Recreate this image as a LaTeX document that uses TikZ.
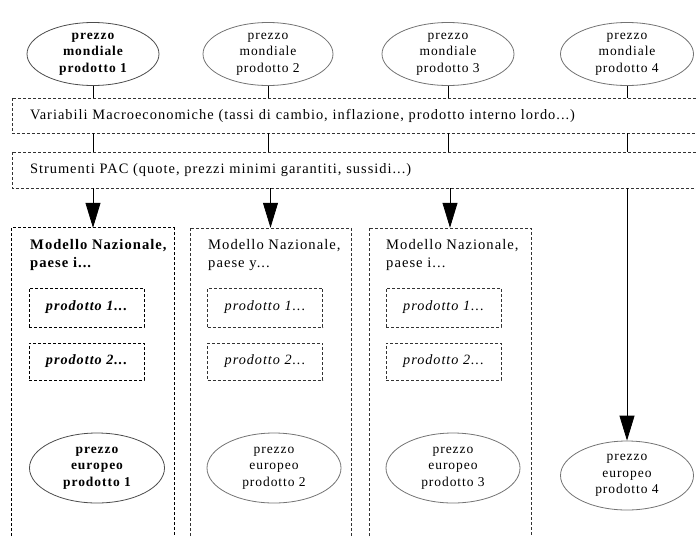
\documentclass[tikz,border=0pt]{standalone}
\usepackage{fontspec}
\setmainfont{Liberation Serif}[LetterSpace=7]
\usetikzlibrary{arrows.meta,shapes.geometric}
\begin{document}
\begin{tikzpicture}[x=1pt,y=-1pt,
  price/.style={ellipse, draw=black!55, line width=0.8pt, inner sep=0pt,
    align=center, font=\fontsize{13.5}{16.7}\selectfont},
  boldprice/.style={price, draw=black!70, font=\fontsize{13.5}{16.7}\selectfont\bfseries},
  band/.style={inner xsep=18pt, inner ysep=0pt, align=left,
    font=\fontsize{14.4}{17}\selectfont},
  frame/.style={draw=black!80, line width=0.6pt, dash pattern=on 3pt off 2pt},
  boldframe/.style={draw=black, line width=0.9pt, dash pattern=on 3pt off 2pt},
  column/.style={inner sep=0pt},
  label/.style={inner sep=0pt, anchor=north west, align=left,
    font=\fontsize{14.6}{18}\selectfont},
  prod/.style={frame, inner sep=0pt, minimum width=115pt,
    font=\fontsize{14.2}{17}\selectfont\itshape},
  stub/.style={draw=black, line width=0.8pt},
  arr/.style={draw=black, line width=0.8pt, -{Triangle[length=25pt,width=15pt]}}
]
\useasboundingbox (0,0) rectangle (696,536);

% world prices
\node[boldprice, minimum width=132pt, minimum height=63pt] (m1) at (93,54) {prezzo\\mondiale\\prodotto 1};
\node[price, minimum width=130pt, minimum height=63pt] (m2) at (268,54) {prezzo\\mondiale\\prodotto 2};
\node[price, minimum width=132pt, minimum height=63pt] (m3) at (448,54) {prezzo\\mondiale\\prodotto 3};
\node[price, minimum width=133pt, minimum height=63pt] (m4) at (627,54) {prezzo\\mondiale\\prodotto 4};

% horizontal bands, open on the right
\node[band, text width=648pt, minimum height=35pt] (macro) at (354,115.5)
  {Variabili Macroeconomiche (tassi di cambio, inflazione, prodotto interno lordo...)};
\node[band, text width=648pt, minimum height=36pt] (pac) at (354,170)
  {Strumenti PAC (quote, prezzi minimi garantiti, sussidi...)};
\draw[frame] (macro.north east) -- (macro.north west) -- (macro.south west) -- (macro.south east);
\draw[frame] (pac.north east) -- (pac.north west) -- (pac.south west) -- (pac.south east);

% national model columns, open at the bottom
\node[column, minimum width=162pt, minimum height=308pt] (c1) at (93,382) {};
\node[column, minimum width=161pt, minimum height=308pt] (c2) at (270.5,382) {};
\node[column, minimum width=162pt, minimum height=308pt] (c3) at (450,382) {};
\draw[boldframe] (c1.south west) -- (c1.north west) -- (c1.north east) -- (c1.south east);
\draw[frame] (c2.south west) -- (c2.north west) -- (c2.north east) -- (c2.south east);
\draw[frame] (c3.south west) -- (c3.north west) -- (c3.north east) -- (c3.south east);

\node[label, font=\fontsize{14.6}{18}\selectfont\bfseries] (l1) at (30,239) {Modello Nazionale,\\paese i...};
\node[label] (l2) at (208,239) {Modello Nazionale,\\paese y...};
\node[label] (l3) at (386,239) {Modello Nazionale,\\paese i...};

% products inside each model
\node[prod, boldframe, minimum height=39pt, font=\fontsize{14.2}{17}\selectfont\bfseries\itshape] (p11) at (86.5,307.5) {prodotto 1...};
\node[prod, boldframe, minimum height=37pt, font=\fontsize{14.2}{17}\selectfont\bfseries\itshape] (p12) at (86.5,361.5) {prodotto 2...};
\node[prod, minimum height=39pt] (p21) at (265,307.5) {prodotto 1...};
\node[prod, minimum height=37pt] (p22) at (265,361.5) {prodotto 2...};
\node[prod, minimum height=39pt] (p31) at (443.5,307.5) {prodotto 1...};
\node[prod, minimum height=37pt] (p32) at (443.5,361.5) {prodotto 2...};

% european prices
\node[boldprice, minimum width=135pt, minimum height=70pt] (e1) at (97,468) {prezzo\\europeo\\prodotto 1};
\node[price, minimum width=134pt, minimum height=70pt] (e2) at (274,468) {prezzo\\europeo\\prodotto 2};
\node[price, minimum width=134pt, minimum height=70pt] (e3) at (453,468) {prezzo\\europeo\\prodotto 3};
\node[price, minimum width=133pt, minimum height=69pt] (e4) at (627,475.5) {prezzo\\europeo\\prodotto 4};

% connectors
\foreach \m in {m1,m2,m3,m4} {
  \draw[stub] (\m.south) -- (\m.south |- macro.north);
  \draw[stub] (\m.south |- macro.south) -- (\m.south |- pac.north);
}
\draw[arr] (pac.south -| c1.north) -- (c1.north);
\draw[arr] (pac.south -| c2.north) -- (c2.north);
\draw[arr] (pac.south -| c3.north) -- (c3.north);
\draw[arr] (pac.south -| e4.north) -- (e4.north);
\end{tikzpicture}
\end{document}
